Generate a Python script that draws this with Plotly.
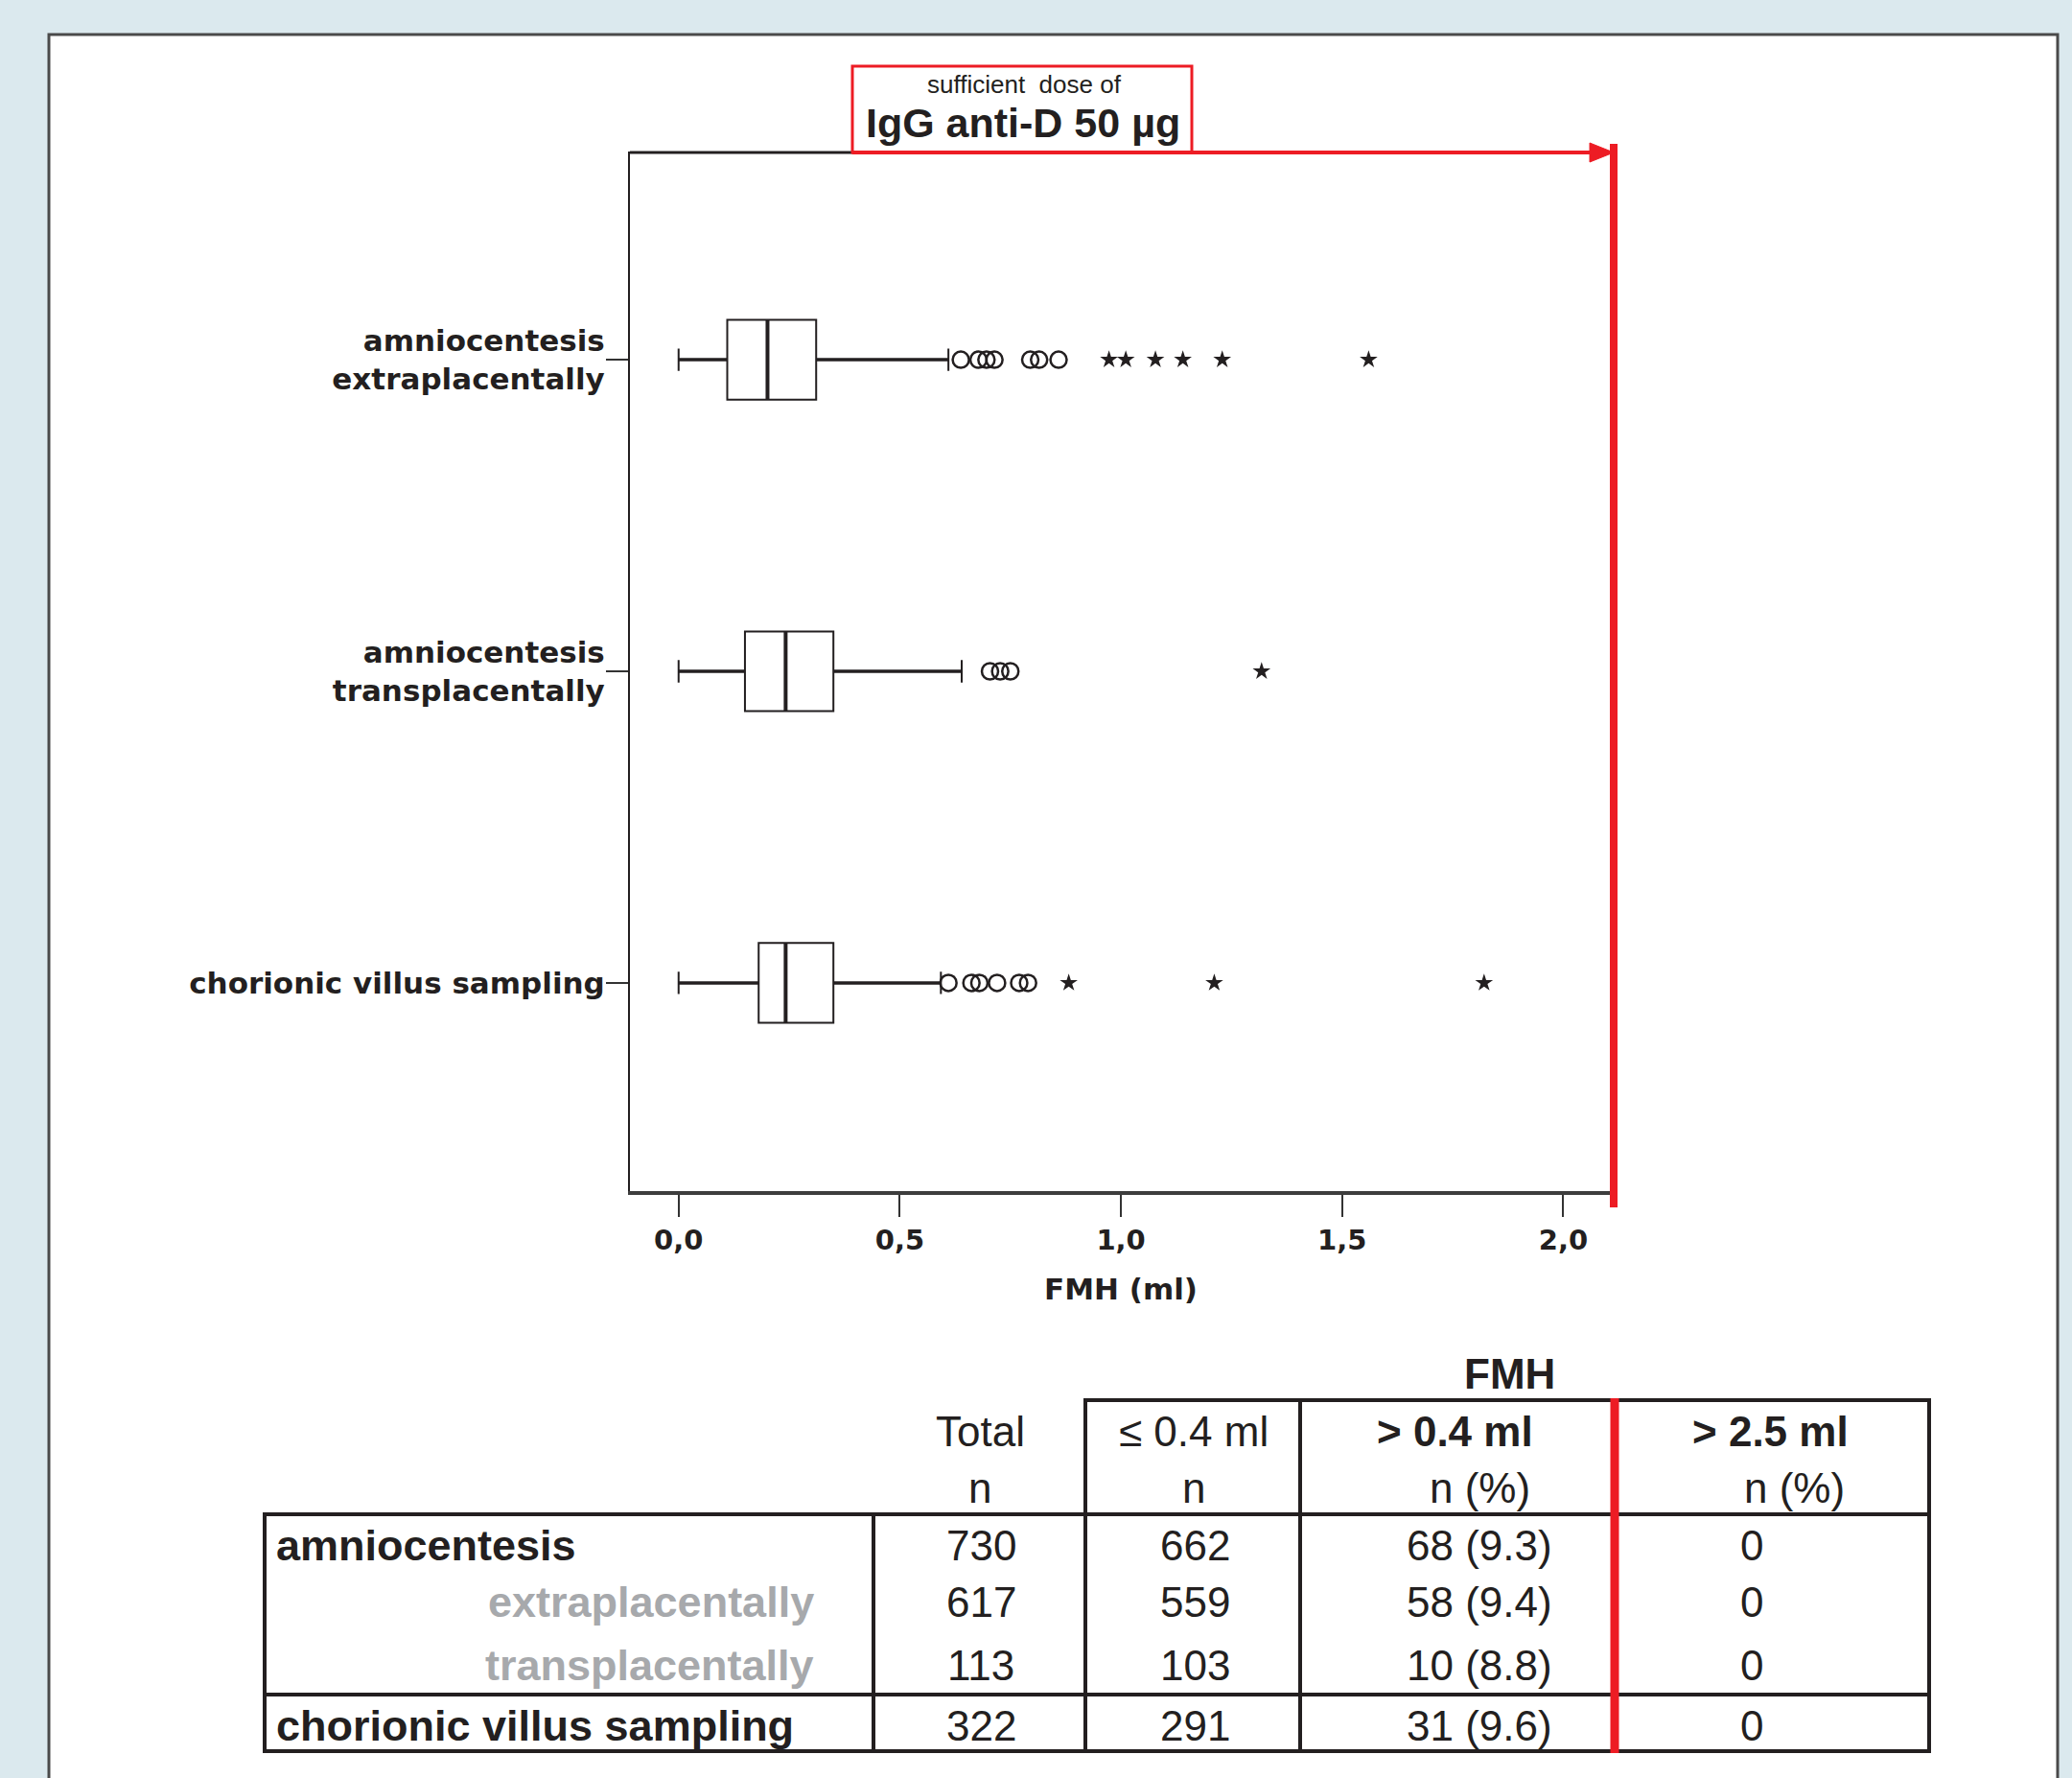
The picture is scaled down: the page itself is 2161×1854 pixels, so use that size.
import plotly.graph_objects as go

# ---------------- data ----------------
categories = ["amniocentesis<br>extraplacentally",
              "amniocentesis<br>transplacentally",
              "chorionic villus sampling"]
cat_pos = [0, 1, 2]
q1 = [0.110, 0.150, 0.181]
median = [0.201, 0.242, 0.242]
q3 = [0.311, 0.350, 0.350]
lower_fence = [0.0, 0.0, 0.0]
upper_fence = [0.610, 0.640, 0.593]
outliers_circle = [[0.638, 0.678, 0.696, 0.714, 0.795, 0.815, 0.859],
                   [0.704, 0.727, 0.750],
                   [0.610, 0.662, 0.680, 0.720, 0.770, 0.790]]
outliers_star = [[0.973, 1.011, 1.078, 1.140, 1.229, 1.560],
                 [1.318],
                 [0.882, 1.211, 1.821]]
x_tickvals = [0.0, 0.5, 1.0, 1.5, 2.0]
x_ticktext = ["0,0", "0,5", "1,0", "1,5", "2,0"]
x_title = "FMH (ml)"
x_range = [-0.110, 2.114]
title_small = "sufficient&nbsp; dose of"
title_big = "IgG anti-D 50 µg"

table_title = "FMH"
col_headers = ["Total", "≤ 0.4 ml", "> 0.4 ml", "> 2.5 ml"]
col_headers_bold = [False, False, True, True]
col_subheaders = ["n", "n", "n (%)", "n (%)"]
row_labels = ["amniocentesis", "extraplacentally", "transplacentally", "chorionic villus sampling"]
row_is_sub = [False, True, True, False]
total_n = [730, 617, 113, 322]
le04_n = [662, 559, 103, 291]
gt04_n = [68, 58, 10, 31]
gt04_pct = [9.3, 9.4, 8.8, 9.6]
gt25_n = [0, 0, 0, 0]

# ---------------- layout helpers (pixel -> paper) ----------------
W, H = 2161, 1854
PL, PR, PT, PB = 657, 1683, 158, 1242
def px(x):
    return (x - PL) / (PR - PL)
def py(y):
    return (PB - y) / (PB - PT)

DARK = "#231f20"
RED = "#ed1c24"
GRAY = "#a7a9ac"
HALF_BOX = 0.128

fig = go.Figure()

# boxes
for i in range(len(categories)):
    fig.add_trace(go.Box(
        y=[cat_pos[i]], q1=[q1[i]], median=[median[i]], q3=[q3[i]],
        lowerfence=[lower_fence[i]], upperfence=[upper_fence[i]],
        orientation="h", width=2 * HALF_BOX, whiskerwidth=0.28,
        fillcolor="white", line=dict(color=DARK, width=2),
        boxpoints=False, showlegend=False, hoverinfo="skip"))

# thicker median and whisker strokes
mx, my, wx, wy = [], [], [], []
for i in range(len(categories)):
    mx += [median[i], median[i], None]
    my += [cat_pos[i] - HALF_BOX, cat_pos[i] + HALF_BOX, None]
    wx += [lower_fence[i], q1[i], None, q3[i], upper_fence[i], None]
    wy += [cat_pos[i], cat_pos[i], None, cat_pos[i], cat_pos[i], None]
fig.add_trace(go.Scatter(x=wx, y=wy, mode="lines", line=dict(color=DARK, width=3.5),
                         showlegend=False, hoverinfo="skip"))
fig.add_trace(go.Scatter(x=mx, y=my, mode="lines", line=dict(color=DARK, width=4),
                         showlegend=False, hoverinfo="skip"))

# outliers
for i in range(len(categories)):
    fig.add_trace(go.Scatter(
        x=outliers_circle[i], y=[cat_pos[i]] * len(outliers_circle[i]), mode="markers",
        marker=dict(symbol="circle-open", size=17, color=DARK, line=dict(width=2.5, color=DARK)),
        showlegend=False, hoverinfo="skip"))
    fig.add_trace(go.Scatter(
        x=outliers_star[i], y=[cat_pos[i]] * len(outliers_star[i]), mode="markers",
        marker=dict(symbol="star", size=14, color=DARK, line=dict(width=0)),
        showlegend=False, hoverinfo="skip"))

shapes = []
# white panel
shapes.append(dict(type="rect", xref="paper", yref="paper", layer="below",
                   x0=px(51), x1=px(2146), y0=py(36), y1=py(1880),
                   fillcolor="white", line=dict(color="#4a4a4a", width=3)))
# top frame black part
shapes.append(dict(type="line", xref="paper", yref="paper",
                   x0=px(657), x1=px(889), y0=py(159), y1=py(159),
                   line=dict(color=DARK, width=3)))
# red arrow line
shapes.append(dict(type="line", xref="paper", yref="paper",
                   x0=px(889), x1=px(1662), y0=py(159), y1=py(159),
                   line=dict(color=RED, width=4)))
shapes.append(dict(type="path", xref="paper", yref="paper",
                   path=f"M {px(1658)},{py(149)} L {px(1683)},{py(159)} L {px(1658)},{py(169)} Z",
                   fillcolor=RED, line=dict(color=RED, width=1)))
# title box
shapes.append(dict(type="rect", xref="paper", yref="paper",
                   x0=px(889), x1=px(1243), y0=py(159), y1=py(69),
                   line=dict(color=RED, width=3)))
# red vertical limit line in plot
shapes.append(dict(type="line", xref="paper", yref="paper",
                   x0=1, x1=1, y0=py(150), y1=py(1259),
                   line=dict(color=RED, width=8)))

# table grid
LW = 4
hlines = [(1460, 1132, 2012), (1579, 276, 2012), (1767, 276, 2012), (1826, 276, 2012)]
vlines = [(276, 1579, 1826), (911, 1579, 1826), (1132, 1460, 1826),
          (1356, 1460, 1826), (2012, 1460, 1826)]
for y, x0, x1 in hlines:
    shapes.append(dict(type="line", xref="paper", yref="paper",
                       x0=px(x0 - 2), x1=px(x1 + 2), y0=py(y), y1=py(y),
                       line=dict(color=DARK, width=LW)))
for x, y0, y1 in vlines:
    shapes.append(dict(type="line", xref="paper", yref="paper",
                       x0=px(x), x1=px(x), y0=py(y0 - 2), y1=py(y1 + 2),
                       line=dict(color=DARK, width=LW)))
shapes.append(dict(type="line", xref="paper", yref="paper",
                   x0=px(1684), x1=px(1684), y0=py(1458), y1=py(1828),
                   line=dict(color=RED, width=9)))

annotations = []
def ann(text, x, y, size, bold=False, color=DARK, xanchor="center", family="Liberation Sans"):
    annotations.append(dict(text=text, x=px(x), y=py(y), xref="paper", yref="paper",
                            xanchor=xanchor, yanchor="middle", showarrow=False,
                            font=dict(family=family, size=size, color=color,
                                      weight="bold" if bold else "normal")))

# title
ann(title_small, 1068, 88, 26)
ann(title_big, 1067, 128, 43, bold=True)
# x axis title
annotations.append(dict(text=x_title, x=1.0, xref="x", y=py(1344), yref="paper",
                        showarrow=False, xanchor="center", yanchor="middle",
                        font=dict(family="DejaVu Sans", size=31, color=DARK, weight="bold")))

# table text
ann(table_title, 1574, 1432, 44, bold=True)
head_x = [1022, 1245, 1517, 1846]
sub_x = [1022, 1245, 1543, 1871]
val_x = [1023, 1246, 1543, 1827]
row_y = [1611, 1670, 1736, 1799]
for j in range(4):
    ann(col_headers[j], head_x[j], 1492, 44, bold=col_headers_bold[j])
    ann(col_subheaders[j], sub_x[j], 1551, 44)
for r in range(4):
    if row_is_sub[r]:
        ann(row_labels[r], 851, row_y[r], 45, bold=True, color=GRAY, xanchor="right")
    else:
        ann(row_labels[r], 286, row_y[r], 45, bold=True, xanchor="left")
    ann(str(total_n[r]), val_x[0], row_y[r], 44)
    ann(str(le04_n[r]), val_x[1], row_y[r], 44)
    ann(f"{gt04_n[r]} ({gt04_pct[r]})", val_x[2], row_y[r], 44)
    ann(str(gt25_n[r]), val_x[3], row_y[r], 44)

fig.update_layout(
    width=W, height=H, autosize=False,
    margin=dict(l=PL, r=W - PR, t=PT, b=H - PB, pad=0),
    paper_bgcolor="#dbe9ee", plot_bgcolor="white",
    showlegend=False, shapes=shapes, annotations=annotations,
    xaxis=dict(range=x_range, tickvals=x_tickvals, ticktext=x_ticktext,
               showgrid=False, zeroline=False, showline=True,
               linecolor="#3d3d3d", linewidth=4, ticks="outside", ticklen=23,
               tickwidth=2, tickcolor="#333333", ticklabelstandoff=-1,
               tickfont=dict(family="DejaVu Sans", size=29, color=DARK, weight="bold")),
    yaxis=dict(range=[2.668, -0.668], tickvals=cat_pos, ticktext=categories,
               showgrid=False, zeroline=False, showline=True,
               linecolor=DARK, linewidth=2, ticks="outside", ticklen=23,
               tickwidth=2, tickcolor="#333333", ticklabelstandoff=-5,
               tickfont=dict(family="DejaVu Sans", size=31, color=DARK, weight="bold")),
)

fig.write_html("out.html", config={"displayModeBar": False},
               post_script="document.body.style.margin='0';document.body.style.overflow='hidden';")
